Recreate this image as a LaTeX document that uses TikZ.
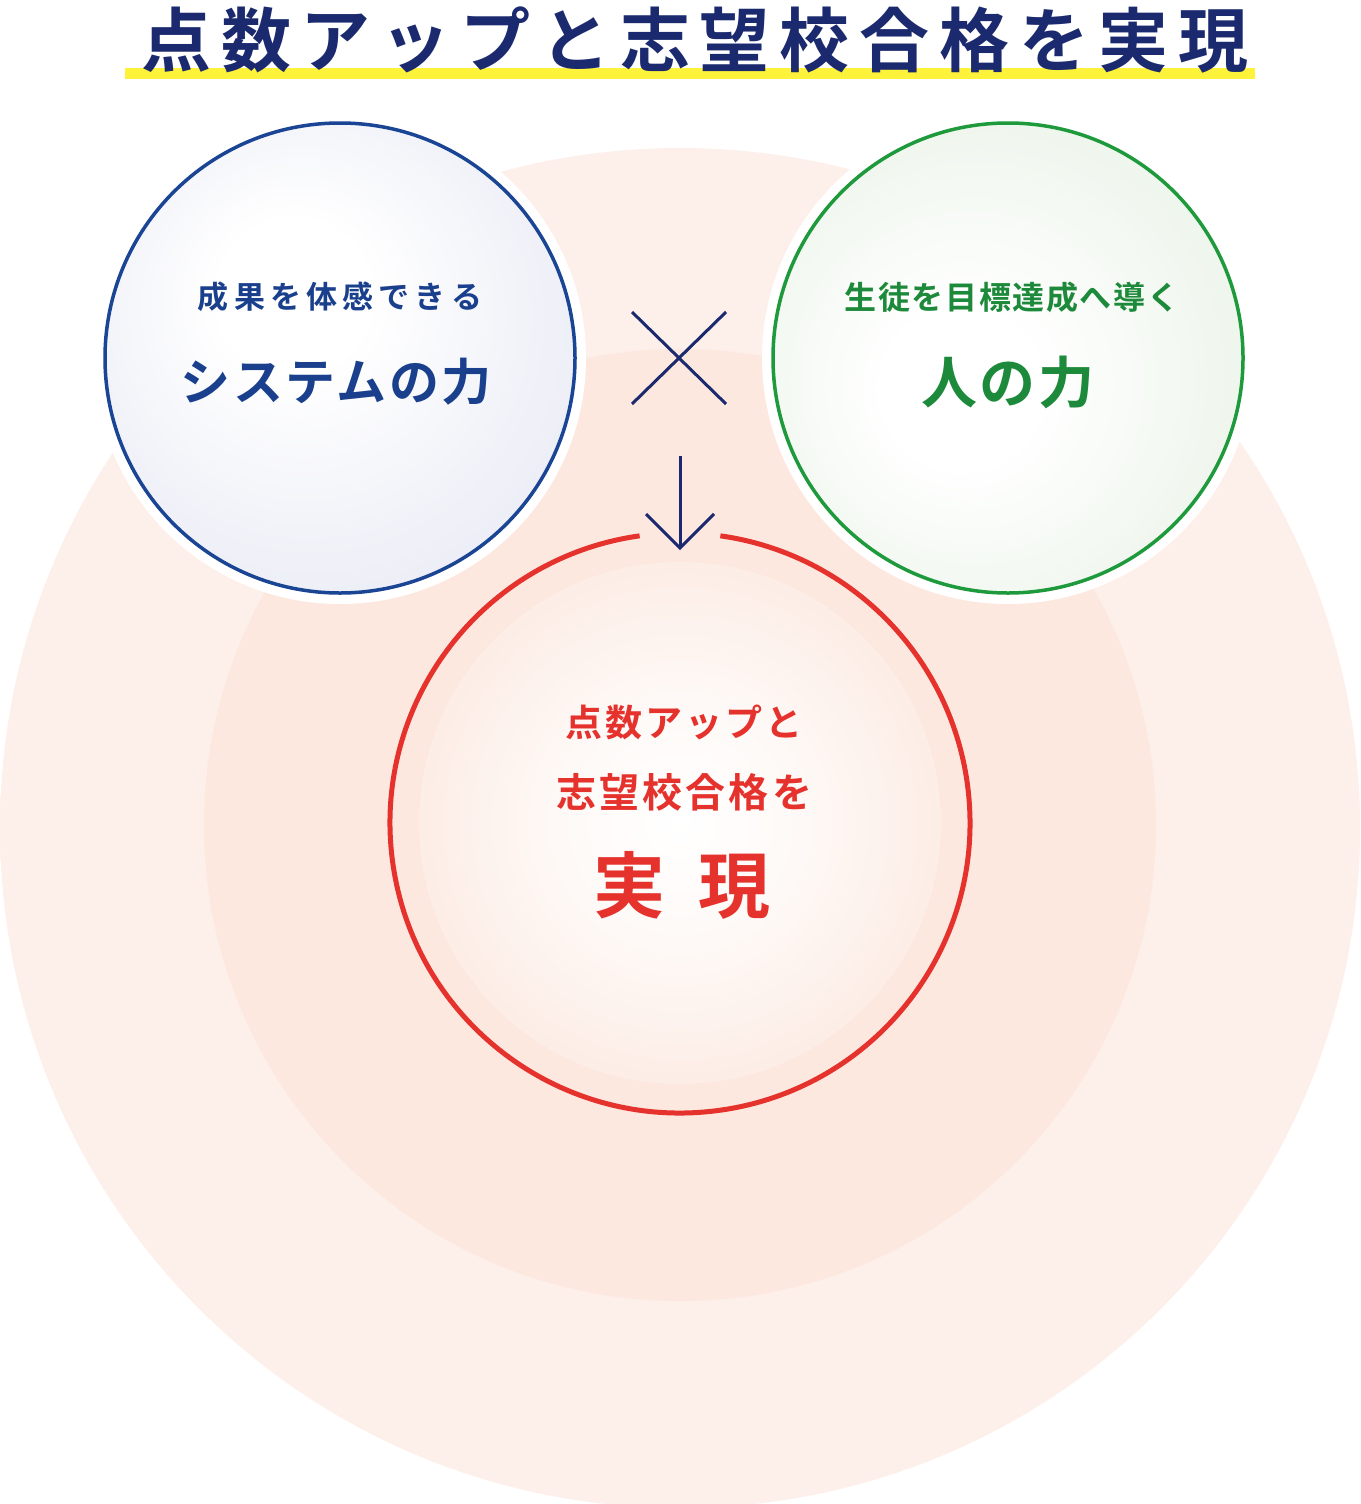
\documentclass[tikz,border=0pt]{standalone}
\usepackage{fontspec}
\newfontfamily\jpb{Noto Sans CJK JP Bold}
\newfontfamily\jpbt[LetterSpace=14]{Noto Sans CJK JP Bold}
\newfontfamily\jpbs[LetterSpace=8]{Noto Sans CJK JP Bold}
\newfontfamily\jpbw[LetterSpace=5]{Noto Sans CJK JP Bold}
\definecolor{navy}{HTML}{1B2A6E}
\definecolor{bstroke}{HTML}{1A4494}
\definecolor{gstroke}{HTML}{1E9A3C}
\definecolor{gtext}{HTML}{1C8A3A}
\definecolor{rstroke}{HTML}{E5322D}
\definecolor{ytitle}{HTML}{FFF23A}
\definecolor{peachA}{HTML}{FDEFE9}
\definecolor{peachB}{HTML}{FCE8DF}
\definecolor{peachC}{HTML}{F9D6C5}
\definecolor{lav}{HTML}{DADDEE}
\definecolor{lgr}{HTML}{DCEBD8}
\pgfdeclareradialshading{outerfade}{\pgfpoint{0bp}{0bp}}{color(0bp)=(peachA);color(34bp)=(peachA);color(50bp)=(white!75!peachA)}
\pgfdeclareradialshading{midfade}{\pgfpoint{0bp}{0bp}}{color(0bp)=(peachB);color(30bp)=(peachB);color(50bp)=(white!55!peachB)}
\pgfdeclareradialshading{innerfade}{\pgfpoint{0bp}{0bp}}{color(0bp)=(white);color(12bp)=(white!85!peachC);color(50bp)=(peachC)}
\pgfdeclareradialshading{bluefade}{\pgfpoint{-6bp}{8bp}}{color(0bp)=(white);color(8bp)=(white);color(50bp)=(lav)}
\pgfdeclareradialshading{greenfade}{\pgfpoint{-6bp}{-4bp}}{color(0bp)=(white);color(8bp)=(white);color(50bp)=(lgr)}
\begin{document}
\begin{tikzpicture}[x=1pt,y=-1pt,lbl/.style={inner sep=0pt,align=center}]
\useasboundingbox (0,0) rectangle (1360,1504);
\shade[shading=outerfade] (680,828) circle[radius=680pt];
\shade[shading=midfade] (680,825) circle[radius=476pt];
\shade[shading=innerfade] (680,823) circle[radius=261pt];
\coordinate (rc) at (680,823);
\draw[rstroke,line width=5pt] (rc) ++(98:290pt) arc[start angle=98,end angle=442,radius=290pt];
\fill[ytitle] (125,68) rectangle (1255,79);
\node[lbl,navy,font=\jpbt\fontsize{70}{74}\selectfont] (title) at (695,40) {点数アップと志望校合格を実現};
\fill[white] (340,358) circle[radius=246pt];
\fill[white] (1008,358) circle[radius=246pt];
\shade[shading=bluefade] (340,358) circle[radius=235pt];
\shade[shading=greenfade] (1008,358) circle[radius=235pt];
\draw[bstroke,line width=3.5pt] (340,358) circle[radius=235pt];
\draw[gstroke,line width=3.5pt] (1008,358) circle[radius=235pt];
\node[lbl,bstroke!80!navy,font=\jpb\fontsize{31}{34}\selectfont] (s1) at (340,297) {成\,果\,を\,体\,感\,で\,き\,る};
\node[lbl,bstroke!80!navy,font=\jpbw\fontsize{50}{54}\selectfont] (s2) at (336,382) {システムの力};
\node[lbl,gtext,font=\jpbw\fontsize{32}{34}\selectfont] (h1) at (1012,297) {生徒を目標達成へ導く};
\node[lbl,gtext,font=\jpbw\fontsize{56}{58}\selectfont] (h2) at (1008,382) {人の力};
\coordinate (x1) at (632,312); \coordinate (x2) at (726,404);
\coordinate (x3) at (726,312); \coordinate (x4) at (632,404);
\draw[navy,line width=3pt] (x1) -- (x2) (x3) -- (x4);
\coordinate (a1) at (680,456); \coordinate (a2) at (680,548);
\draw[navy,line width=3pt] (a1) -- (a2);
\draw[navy,line width=3pt] (646,514) -- (a2) -- (714,514);
\node[lbl,rstroke,font=\jpbs\fontsize{37}{40}\selectfont] (r1) at (684,722) {点数アップと};
\node[lbl,rstroke,font=\jpbs\fontsize{40}{42}\selectfont] (r2) at (684,792) {志望校合格を};
\node[lbl,rstroke,font=\jpb\fontsize{72}{76}\selectfont] (r3) at (682,885) {実\hspace{34pt}現};
\end{tikzpicture}
\end{document}
